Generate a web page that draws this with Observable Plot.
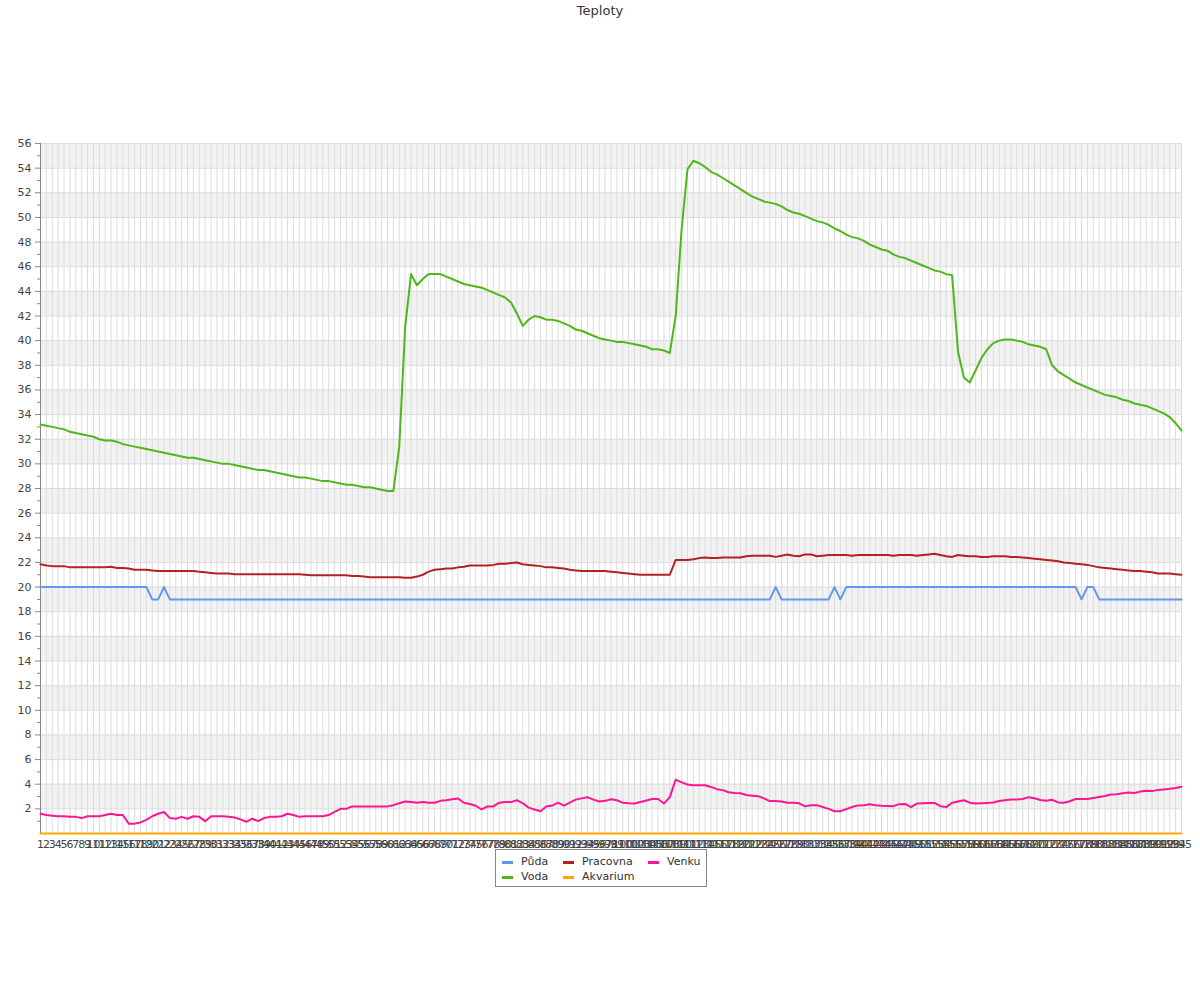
<!DOCTYPE html>
<html>
<head>
<meta charset="utf-8">
<script src="https://cdn.jsdelivr.net/npm/d3@7"></script>
<script src="https://cdn.jsdelivr.net/npm/@observablehq/plot@0.6"></script>
<style>
  html, body { margin: 0; padding: 0; background: #fff; }
  body { position: relative; width: 1200px; height: 1000px; font-family: "DejaVu Sans", sans-serif; }
  #title { height: 22px; line-height: 22px; text-align: center; font-size: 13px; color: #333; }
  #legend { position: absolute; left: 495px; top: 849px; width: 210px; height: 36px; border: 1px solid #888; background: #fff; font-size: 11px; color: #333; }
  .item { position: absolute; height: 14px; line-height: 14px; white-space: nowrap; }
  .sw { position: absolute; width: 11px; height: 3px; top: 6px; left: 0; }
  .lbl { position: absolute; left: 19px; top: 0; }
</style>
</head>
<body>
<div id="title">Teploty</div>
<div id="chart"></div>
<div id="legend"></div>
<script>
const days = [1,2,3,4,5,6,7,8,9,10,11,12,13,14,15,16,17,18,19,20,21,22,23,24,25,26,27,28,29,30,31,32,33,34,35,36,37,38,39,40,41,42,43,44,45,46,47,48,49,50,51,52,53,54,55,56,57,58,59,60,61,62,63,64,65,66,67,68,69,70,71,72,73,74,75,76,77,78,79,80,81,82,83,84,85,86,87,88,89,90,91,92,93,94,95,96,97,98,99,100,101,102,103,104,105,106,107,108,109,110,111,112,113,114,115,116,117,118,119,120,121,122,123,124,125,126,127,128,129,130,131,132,133,134,135,136,137,138,139,140,141,142,143,144,145,146,147,148,149,150,151,152,153,154,155,156,157,158,159,160,161,162,163,164,165,166,167,168,169,170,171,172,173,174,175,176,177,178,179,180,181,182,183,184,185,186,187,188,189,190,191,192,193,194,195];

const seriesNames = ["Půda", "Voda", "Pracovna", "Akvarium", "Venku"];
const seriesColors = ["#6495ed", "#4fb718", "#b22222", "#ffa500", "#ff1493"];

const puda = [
20,20,20,20,20,20,20,20,20,20,
20,20,20,20,20,20,20,20,20,19,
19,20,19,19,19,19,19,19,19,19,
19,19,19,19,19,19,19,19,19,19,
19,19,19,19,19,19,19,19,19,19,
19,19,19,19,19,19,19,19,19,19,
19,19,19,19,19,19,19,19,19,19,
19,19,19,19,19,19,19,19,19,19,
19,19,19,19,19,19,19,19,19,19,
19,19,19,19,19,19,19,19,19,19,
19,19,19,19,19,19,19,19,19,19,
19,19,19,19,19,19,19,19,19,19,
19,19,19,19,19,20,19,19,19,19,
19,19,19,19,19,20,19,20,20,20,
20,20,20,20,20,20,20,20,20,20,
20,20,20,20,20,20,20,20,20,20,
20,20,20,20,20,20,20,20,20,20,
20,20,20,20,20,20,20,19,20,20,
19,19,19,19,19,19,19,19,19,19,
19,19,19,19,19];

const voda = [
33.2,33.1,33.0,32.9,32.8,32.6,32.5,32.4,32.3,32.2,
32.0,31.9,31.9,31.8,31.6,31.5,31.4,31.3,31.2,31.1,
31.0,30.9,30.8,30.7,30.6,30.5,30.5,30.4,30.3,30.2,
30.1,30.0,30.0,29.9,29.8,29.7,29.6,29.5,29.5,29.4,
29.3,29.2,29.1,29.0,28.9,28.9,28.8,28.7,28.6,28.6,
28.5,28.4,28.3,28.3,28.2,28.1,28.1,28.0,27.9,27.8,
27.8,31.4,41.1,45.4,44.5,45.0,45.4,45.4,45.4,45.2,
45.0,44.8,44.6,44.5,44.4,44.3,44.1,43.9,43.7,43.5,
43.1,42.2,41.2,41.7,42.0,41.9,41.7,41.7,41.6,41.4,
41.2,40.9,40.8,40.6,40.4,40.2,40.1,40.0,39.9,39.9,
39.8,39.7,39.6,39.5,39.3,39.3,39.2,39.0,42.0,49.0,
53.9,54.6,54.4,54.1,53.7,53.5,53.2,52.9,52.6,52.3,
52.0,51.7,51.5,51.3,51.2,51.1,50.9,50.6,50.4,50.3,
50.1,49.9,49.7,49.6,49.4,49.1,48.9,48.6,48.4,48.3,
48.1,47.8,47.6,47.4,47.3,47.0,46.8,46.7,46.5,46.3,
46.1,45.9,45.7,45.6,45.4,45.3,39.1,37.0,36.6,37.6,
38.6,39.3,39.8,40.0,40.1,40.1,40.0,39.9,39.7,39.6,
39.5,39.3,38.0,37.5,37.2,36.9,36.6,36.4,36.2,36.0,
35.8,35.6,35.5,35.4,35.2,35.1,34.9,34.8,34.7,34.5,
34.3,34.1,33.8,33.3,32.7];

const pracovna = [
21.85,21.75,21.7,21.7,21.7,21.6,21.6,21.6,21.6,21.6,
21.6,21.6,21.65,21.55,21.55,21.5,21.4,21.4,21.4,21.35,
21.3,21.3,21.3,21.3,21.3,21.3,21.3,21.25,21.2,21.15,
21.1,21.1,21.1,21.05,21.05,21.05,21.05,21.05,21.05,21.05,
21.05,21.05,21.05,21.05,21.05,21.0,20.95,20.95,20.95,20.95,
20.95,20.95,20.95,20.9,20.9,20.85,20.8,20.8,20.8,20.8,
20.8,20.8,20.75,20.75,20.85,21.0,21.25,21.4,21.45,21.5,
21.5,21.6,21.65,21.75,21.75,21.75,21.75,21.8,21.9,21.9,
21.95,22.0,21.85,21.8,21.75,21.7,21.6,21.6,21.55,21.5,
21.4,21.35,21.3,21.3,21.3,21.3,21.3,21.25,21.2,21.15,
21.1,21.05,21.0,21.0,21.0,21.0,21.0,21.0,22.2,22.2,
22.2,22.25,22.35,22.4,22.35,22.35,22.4,22.4,22.4,22.4,
22.5,22.55,22.55,22.55,22.55,22.45,22.55,22.65,22.55,22.5,
22.65,22.65,22.5,22.55,22.6,22.6,22.6,22.6,22.55,22.6,
22.6,22.6,22.6,22.6,22.6,22.55,22.6,22.6,22.6,22.55,
22.6,22.65,22.7,22.6,22.5,22.45,22.6,22.55,22.5,22.5,
22.45,22.45,22.5,22.5,22.5,22.45,22.45,22.4,22.35,22.3,
22.25,22.2,22.15,22.1,22.0,21.95,21.9,21.85,21.8,21.7,
21.6,21.55,21.5,21.45,21.4,21.35,21.3,21.3,21.25,21.2,
21.1,21.1,21.1,21.05,21.0];

const akvarium = [
0,0,0,0,0,0,0,0,0,0,
0,0,0,0,0,0,0,0,0,0,
0,0,0,0,0,0,0,0,0,0,
0,0,0,0,0,0,0,0,0,0,
0,0,0,0,0,0,0,0,0,0,
0,0,0,0,0,0,0,0,0,0,
0,0,0,0,0,0,0,0,0,0,
0,0,0,0,0,0,0,0,0,0,
0,0,0,0,0,0,0,0,0,0,
0,0,0,0,0,0,0,0,0,0,
0,0,0,0,0,0,0,0,0,0,
0,0,0,0,0,0,0,0,0,0,
0,0,0,0,0,0,0,0,0,0,
0,0,0,0,0,0,0,0,0,0,
0,0,0,0,0,0,0,0,0,0,
0,0,0,0,0,0,0,0,0,0,
0,0,0,0,0,0,0,0,0,0,
0,0,0,0,0,0,0,0,0,0,
0,0,0,0,0,0,0,0,0,0,
0,0,0,0,0];

const venku = [
1.6,1.5,1.45,1.4,1.4,1.35,1.35,1.25,1.4,1.4,
1.4,1.5,1.6,1.5,1.5,0.8,0.8,0.9,1.1,1.4,
1.6,1.75,1.25,1.2,1.35,1.2,1.4,1.35,1.0,1.4,
1.4,1.4,1.35,1.3,1.15,0.95,1.2,1.0,1.25,1.35,
1.35,1.4,1.6,1.5,1.35,1.4,1.4,1.4,1.4,1.5,
1.75,2.0,2.0,2.2,2.2,2.2,2.2,2.2,2.2,2.2,
2.3,2.45,2.6,2.55,2.5,2.55,2.5,2.5,2.65,2.7,
2.78,2.84,2.5,2.4,2.25,1.95,2.2,2.2,2.5,2.55,
2.55,2.7,2.45,2.1,1.95,1.8,2.2,2.27,2.5,2.27,
2.5,2.75,2.85,2.95,2.75,2.6,2.65,2.78,2.7,2.5,
2.45,2.43,2.55,2.68,2.8,2.8,2.43,2.95,4.38,4.15,
3.98,3.92,3.92,3.92,3.78,3.6,3.52,3.35,3.28,3.27,
3.12,3.07,3.03,2.85,2.63,2.63,2.6,2.5,2.49,2.45,
2.2,2.3,2.3,2.15,2.0,1.81,1.81,1.98,2.15,2.28,
2.3,2.37,2.3,2.26,2.24,2.22,2.38,2.4,2.14,2.43,
2.45,2.48,2.48,2.22,2.14,2.5,2.6,2.7,2.5,2.43,
2.45,2.48,2.52,2.63,2.7,2.76,2.76,2.8,2.95,2.86,
2.72,2.66,2.74,2.52,2.49,2.62,2.8,2.8,2.8,2.88,
2.97,3.05,3.17,3.19,3.26,3.33,3.28,3.4,3.47,3.44,
3.54,3.58,3.63,3.7,3.8];

const yMajor = [2,4,6,8,10,12,14,16,18,20,22,24,26,28,30,32,34,36,38,40,42,44,46,48,50,52,54,56];
const yMinor = [1,3,5,7,9,11,13,15,17,19,21,23,25,27,29,31,33,35,37,39,41,43,45,47,49,51,53,55];

// build long table
const seriesValues = { "Půda": puda, "Voda": voda, "Pracovna": pracovna, "Akvarium": akvarium, "Venku": venku };
const drawOrder = ["Půda", "Voda", "Pracovna", "Venku", "Akvarium"];
const rows = [];
for (const name of drawOrder) {
  seriesValues[name].forEach((v, k) => rows.push({ day: days[k], value: v, series: name }));
}
const bandStarts = yMajor.filter(t => t % 4 === 2 && t < 56);
const xFirst = days[0], xLast = days[days.length - 1];

const chart = Plot.plot({
  width: 1200,
  height: 850,
  marginTop: 121,
  marginBottom: 39,
  marginLeft: 40,
  marginRight: 19,
  style: { fontFamily: "DejaVu Sans, sans-serif", fontSize: "11px", background: "#fff", color: "#444", overflow: "visible" },
  x: { type: "linear", domain: [xFirst, xLast], axis: null },
  y: { domain: [0, 56], axis: null },
  color: { domain: seriesNames, range: seriesColors },
  marks: [
    Plot.rect(bandStarts, { x1: () => xFirst, x2: () => xLast, y1: d => d, y2: d => d + 2, fill: "#f2f2f2" }),
    Plot.ruleY(yMajor, { stroke: "#dcdcdc", strokeWidth: 1 }),
    Plot.ruleX(days, { stroke: "#dcdcdc", strokeWidth: 1 }),
    Plot.ruleX([xFirst], { stroke: "#888", strokeWidth: 1 }),
    Plot.ruleY([0], { stroke: "#888", strokeWidth: 1 }),
    Plot.line(rows, { x: "day", y: "value", z: "series", stroke: "series", strokeWidth: 2, strokeLinejoin: "round" }),
    Plot.axisY(yMajor, { anchor: "left", tickSize: 5, tickPadding: 4, stroke: "#888", fill: "#444", label: null, fontSize: 11 }),
    Plot.axisY(yMinor, { anchor: "left", tickSize: 3, tickFormat: () => "", stroke: "#888", label: null }),
    Plot.axisX(days, { anchor: "bottom", tickSize: 0, tickPadding: 7, fill: "#444", label: null, tickFormat: d => String(d), fontSize: 11 })
  ]
});
document.getElementById("chart").appendChild(chart);

// legend
const legendPos = {
  "Půda": [6, 5], "Pracovna": [67, 5], "Venku": [152, 5],
  "Voda": [6, 20], "Akvarium": [67, 20]
};
const legend = document.getElementById("legend");
for (const name of ["Půda", "Pracovna", "Venku", "Voda", "Akvarium"]) {
  const item = document.createElement("div");
  item.className = "item";
  item.style.left = legendPos[name][0] + "px";
  item.style.top = legendPos[name][1] + "px";
  const sw = document.createElement("div");
  sw.className = "sw";
  sw.style.background = seriesColors[seriesNames.indexOf(name)];
  const lb = document.createElement("span");
  lb.className = "lbl";
  lb.textContent = name;
  item.appendChild(sw);
  item.appendChild(lb);
  legend.appendChild(item);
}
</script>
</body>
</html>
